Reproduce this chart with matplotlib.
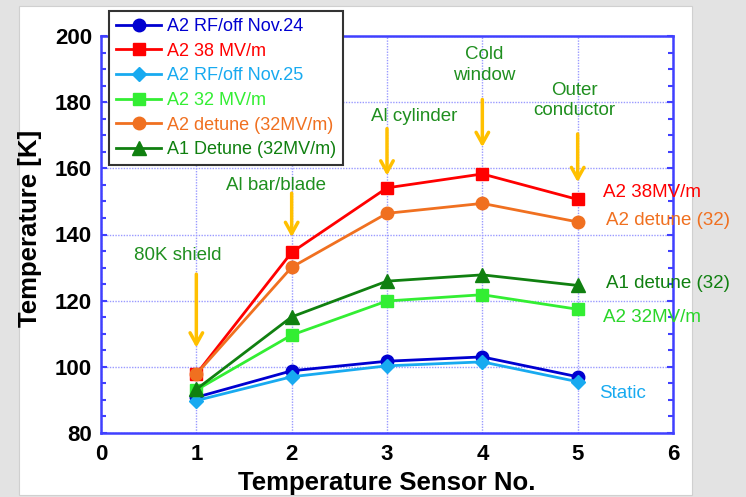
import matplotlib
matplotlib.use("Agg")
import matplotlib.pyplot as plt
from matplotlib.patches import Rectangle
from matplotlib.ticker import MultipleLocator

plt.rcParams['font.family'] = ['Liberation Sans', 'DejaVu Sans']

# data
sensor = [1, 2, 3, 4, 5]
a2_rfoff_nov24 = [90.8, 98.8, 101.7, 103.0, 97.0]
a2_38 = [97.8, 134.6, 154.1, 158.3, 150.6]
a2_rfoff_nov25 = [89.8, 97.0, 100.3, 101.5, 95.5]
a2_32 = [93.0, 109.6, 119.9, 121.8, 117.4]
a2_detune = [97.8, 130.1, 146.4, 149.4, 143.8]
a1_detune = [93.2, 115.1, 125.9, 127.8, 124.6]

series_labels = ['A2 RF/off Nov.24', 'A2 38 MV/m', 'A2 RF/off Nov.25',
                 'A2 32 MV/m', 'A2 detune (32MV/m)', 'A1 Detune (32MV/m)']

# where the parts sit: sensor no., arrow start, arrow tip, text x, text y
parts = ['80K shield', 'Al bar/blade', 'Al cylinder', 'Cold\nwindow', 'Outer\nconductor']
part_sensor = [1, 2, 3, 4, 5]
part_arrow_from = [128.0, 152.5, 172.0, 180.8, 170.4]
part_arrow_to = [105.8, 139.2, 157.8, 166.4, 155.8]
part_text_x = [0.81, 1.84, 3.29, 4.02, 4.97]
part_text_y = [133.8, 154.7, 175.8, 191.2, 180.6]

end_labels = ['A2 38MV/m', 'A2 detune (32)', 'A1 detune (32)', 'A2 32MV/m', 'Static']
end_label_x = [5.27, 5.30, 5.30, 5.27, 5.22]
end_label_y = [152.7, 144.3, 125.2, 114.8, 91.9]

blue = '#0000d0'
red = '#ff0000'
cyan = '#18aaf0'
lgreen = '#33ee33'
orange = '#f07020'
dgreen = '#108010'
txt_green = '#1f8f1f'
arrow_col = '#ffc000'
axis_blue = '#4040ff'

fig = plt.figure(figsize=(7.46, 4.97), dpi=100)
fig.patch.set_facecolor('#e3e3e3')
fig.patches.append(Rectangle((19 / 746, 2 / 497), 673 / 746, 489 / 497,
                             transform=fig.transFigure, facecolor='white',
                             edgecolor='#d0d0d0', lw=0.8, zorder=-10))

ax = fig.add_axes([101 / 746, 64 / 497, 572 / 746, 397 / 497])
ax.set_facecolor('white')

ax.plot(sensor, a2_rfoff_nov24, '-o', color=blue, lw=2, ms=9, label=series_labels[0])
ax.plot(sensor, a2_38, '-s', color=red, lw=2, ms=9, label=series_labels[1])
ax.plot(sensor, a2_rfoff_nov25, '-D', color=cyan, lw=2, ms=7, label=series_labels[2])
ax.plot(sensor, a2_32, '-s', color=lgreen, lw=2, ms=8.5, label=series_labels[3])
ax.plot(sensor, a2_detune, '-o', color=orange, lw=2, ms=9, label=series_labels[4])
ax.plot(sensor, a1_detune, '-^', color=dgreen, lw=2, ms=9.5, label=series_labels[5])

ax.set_xlim(0, 6)
ax.set_ylim(80, 200)
ax.xaxis.set_major_locator(MultipleLocator(1))
ax.yaxis.set_major_locator(MultipleLocator(20))
ax.yaxis.set_minor_locator(MultipleLocator(5))
ax.grid(True, which='major', linestyle=(0, (1, 1)), color='#9a9aff', lw=1)
for sp in ax.spines.values():
    sp.set_color(axis_blue)
    sp.set_linewidth(1.8)
ax.tick_params(axis='y', which='both', direction='in', left=True, right=True,
               color=axis_blue, width=1.5)
ax.tick_params(axis='y', which='major', length=4.5, pad=6.5, labelsize=16)
ax.tick_params(axis='y', which='minor', length=3.5)
ax.tick_params(axis='x', direction='in', length=0, pad=8, labelsize=16)
for lab in ax.get_xticklabels() + ax.get_yticklabels():
    lab.set_fontweight('bold')

ax.set_xlabel('Temperature Sensor No.', fontsize=18.5, fontweight='bold', labelpad=4)
ax.set_ylabel('Temperature [K]', fontsize=18.5, fontweight='bold', labelpad=4)
ax.yaxis.set_label_coords(-0.103, 0.515)

for name, xs, y0, y1, tx, ty in zip(parts, part_sensor, part_arrow_from, part_arrow_to,
                                    part_text_x, part_text_y):
    ax.annotate('', xy=(xs, y1), xytext=(xs, y0),
                arrowprops=dict(arrowstyle='->,head_length=0.45,head_width=0.25',
                                color=arrow_col, lw=2.5, mutation_scale=18,
                                shrinkA=0, shrinkB=0))
    ax.text(tx, ty, name, color=txt_green, fontsize=13.5, ha='center', va='center',
            linespacing=1.25)

end_colors = [red, orange, dgreen, '#2ad62a', cyan]
for name, tx, ty, c in zip(end_labels, end_label_x, end_label_y, end_colors):
    ax.text(tx, ty, name, color=c, fontsize=13.5, ha='left', va='center', clip_on=False)

leg = ax.legend(loc='upper left', bbox_to_anchor=(109 / 746, 1 - 11 / 497),
                bbox_transform=fig.transFigure, borderaxespad=0, fontsize=13,
                handlelength=2.5, handletextpad=0.3, labelspacing=0.42,
                borderpad=0.4, fancybox=False, framealpha=1)
leg.get_frame().set_edgecolor('#333333')
leg.get_frame().set_linewidth(1.5)
for t, c in zip(leg.get_texts(), [blue, red, cyan, lgreen, orange, dgreen]):
    t.set_color(c)

fig.savefig('out.png', dpi=100, facecolor=fig.get_facecolor())
